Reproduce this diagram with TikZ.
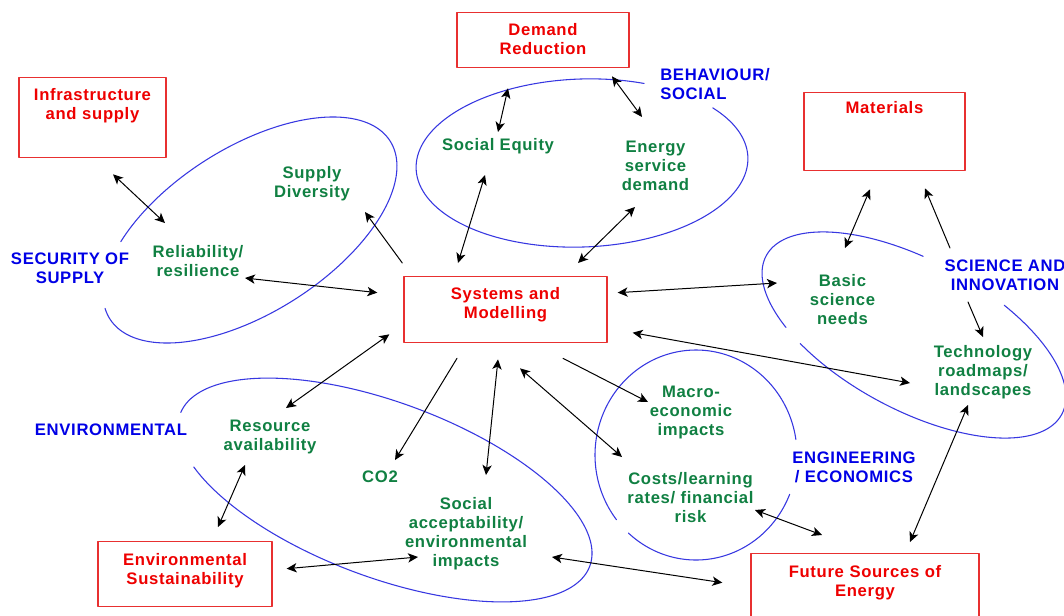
\documentclass[tikz,border=0pt]{standalone}
\usepackage{fontspec}
\setmainfont{Liberation Sans}[LetterSpace=4]
\usetikzlibrary{arrows.meta}
\definecolor{boxred}{RGB}{232,48,48}
\definecolor{textred}{RGB}{238,0,0}
\definecolor{labelblue}{RGB}{0,0,230}
\definecolor{ovalblue}{RGB}{55,55,225}
\definecolor{itemgreen}{RGB}{16,128,66}
\tikzset{
	redbox/.style={draw=boxred, line width=1pt, text=textred, inner sep=0pt, align=center, anchor=north},
	topic/.style={text=labelblue, align=center, inner sep=0pt},
	item/.style={text=itemgreen, align=center, inner sep=0pt},
	oval/.style={ovalblue, line width=0.8pt, smooth},
	link/.style={line width=0.75pt},
}
\begin{document}
\begin{tikzpicture}[x=0.75pt, y=-0.75pt, font=\fontsize{12.5}{14.25}\selectfont\bfseries, line join=round, line cap=round, >={Stealth[length=7.5pt,width=7pt,inset=2pt]}]
	\def\ovalarc#1#2#3#4#5#6#7{% centre, half axes, tilt, from, to
		\draw[oval, domain=#6:#7, samples=150] plot ({#1+#3*cos(\x)*cos(#5)-#4*sin(\x)*sin(#5)}, {#2+#3*cos(\x)*sin(#5)+#4*sin(\x)*cos(#5)});}
	\useasboundingbox (0,0) rectangle (1064,615);
	\clip (0,0) rectangle (1064,615);
	\fill[white] (0,0) rectangle (1064,615);
	% ovals
	\ovalarc{250}{230}{166}{82.6}{-32.4}{226}{548}
	\ovalarc{582}{163}{166}{84}{-2}{-37}{293}
	\ovalarc{914}{335}{167.7}{74.8}{28.2}{293}{485}
	\ovalarc{914}{335}{167.7}{74.8}{28.2}{134}{260}
	\ovalarc{696}{455}{101}{105}{0}{22}{132}
	\ovalarc{696}{455}{101}{105}{0}{142}{351.5}
	\ovalarc{385}{490}{218.5}{87.5}{20.4}{181}{509}
	% boxes
	\node[redbox, text width=110.25pt, text height=17.25pt, text depth=42.75pt] (infra) at (92.5,77) {Infrastructure\\and supply};
	\node[redbox, text width=129pt, text height=17.25pt, text depth=24pt] (demand) at (543,12) {Demand\\Reduction};
	\node[redbox, text width=120.75pt, text height=15.75pt, text depth=42.75pt] (materials) at (884.5,92) {Materials};
	\node[redbox, text width=152.25pt, text height=17.25pt, text depth=32.25pt] (systems) at (505.5,276) {Systems and\\Modelling};
	\node[redbox, text width=130.5pt, text height=18pt, text depth=30.75pt] (envsust) at (185,541) {Environmental\\Sustainability};
	\node[redbox, text width=171pt, text height=18pt, text depth=34.5pt] (future) at (865,553) {Future Sources of\\Energy};
	% themes
	\node[topic] (secsup) at (70,268.5) {SECURITY OF\\SUPPLY};
	\node[topic, align=left, anchor=west] (behav) at (660,84.5) {BEHAVIOUR/\\SOCIAL};
	\node[topic] (science) at (1005,275) {SCIENCE AND\\INNOVATION};
	\node[topic] (environ) at (111,429.5) {ENVIRONMENTAL};
	\node[topic] (engecon) at (854,467.5) {ENGINEERING\\/ ECONOMICS};
	% issues
	\node[item] (supdiv) at (312,184) {Supply\\Diversity};
	\node[item] (reliab) at (198,261.5) {Reliability/\\resilience};
	\node[item] (socequ) at (498,146) {Social Equity};
	\node[item] (enserv) at (655.5,166) {Energy\\service\\demand};
	\node[item] (basicsci) at (842.5,300) {Basic\\science\\needs};
	\node[item] (techroad) at (983,372.5) {Technology\\roadmaps/\\landscapes};
	\node[item] (resavail) at (270,436.5) {Resource\\availability};
	\node[item] (cotwo) at (380,477) {CO2};
	\node[item] (socacc) at (466,534) {Social\\acceptability/\\environmental\\impacts};
	\node[item] (macro) at (691,412.5) {Macro-\\economic\\impacts};
	\node[item] (costs) at (690.5,497.5) {Costs/learning\\rates/ financial\\risk};
	% links
	\draw[link,<->] ([shift={(20.5,16)}]infra.south) -- ([shift={(-33,-38.5)}]reliab.center);
	\draw[link,->] ([shift={(-1,-13)}]systems.north west) -- ([shift={(53,28)}]supdiv.center);
	\draw[link,<->] ([shift={(47,16.5)}]reliab.center) -- ([shift={(-26,-17)}]systems.west);
	\draw[link,<->] ([shift={(16,-28.5)}]resavail.center) -- ([shift={(-14,-9)}]systems.south west);
	\draw[link,->] ([shift={(-48.5,15)}]systems.south) -- ([shift={(15,-17)}]cotwo.center);
	\draw[link,<->] ([shift={(-7.5,16)}]systems.south) -- ([shift={(20,-59)}]socacc.center);
	\draw[link,<->] ([shift={(14.5,25)}]systems.south) -- ([shift={(-68.5,-40.5)}]costs.center);
	\draw[link,->] ([shift={(57.5,15)}]systems.south) -- ([shift={(-43,-10.5)}]macro.center);
	\draw[link,<->] ([shift={(14,-5.5)}]envsust.east) -- ([shift={(-48,23)}]socacc.center);
	\draw[link,<->] ([shift={(-25,28.5)}]resavail.center) -- ([shift={(33,-14)}]envsust.north);
	\draw[link,<->] ([shift={(86,23)}]socacc.center) -- ([shift={(-28,-6)}]future.west);
	\draw[link,<->] ([shift={(64.5,12.5)}]costs.center) -- ([shift={(-43,-18)}]future.north);
	\draw[link,<->] ([shift={(-15,32.5)}]techroad.center) -- ([shift={(45,-11)}]future.north);
	\draw[link,<->] ([shift={(25,23)}]systems.east) -- ([shift={(-73,10.5)}]techroad.center);
	\draw[link,<->] ([shift={(-14.5,18)}]materials.south) -- ([shift={(2.5,-52)}]basicsci.center);
	\draw[link,->] ([shift={(-55,-27)}]science.center) -- ([shift={(40.5,17)}]materials.south);
	\draw[link,->] ([shift={(-37,27)}]science.center) -- ([shift={(0,-35.5)}]techroad.center);
	\draw[link,<->] ([shift={(10,-17)}]systems.east) -- ([shift={(-65.5,-17)}]basicsci.center);
	\draw[link,<->] ([shift={(-35,20)}]demand.south) -- ([shift={(0,-14)}]socequ.center);
	\draw[link,<->] ([shift={(69,8)}]demand.south) -- ([shift={(-13.5,-49)}]enserv.center);
	\draw[link,<->] ([shift={(-13,29)}]socequ.center) -- ([shift={(-47.5,-13)}]systems.north);
	\draw[link,<->] ([shift={(-20.5,41)}]enserv.center) -- ([shift={(72.5,-13)}]systems.north);
\end{tikzpicture}
\end{document}
